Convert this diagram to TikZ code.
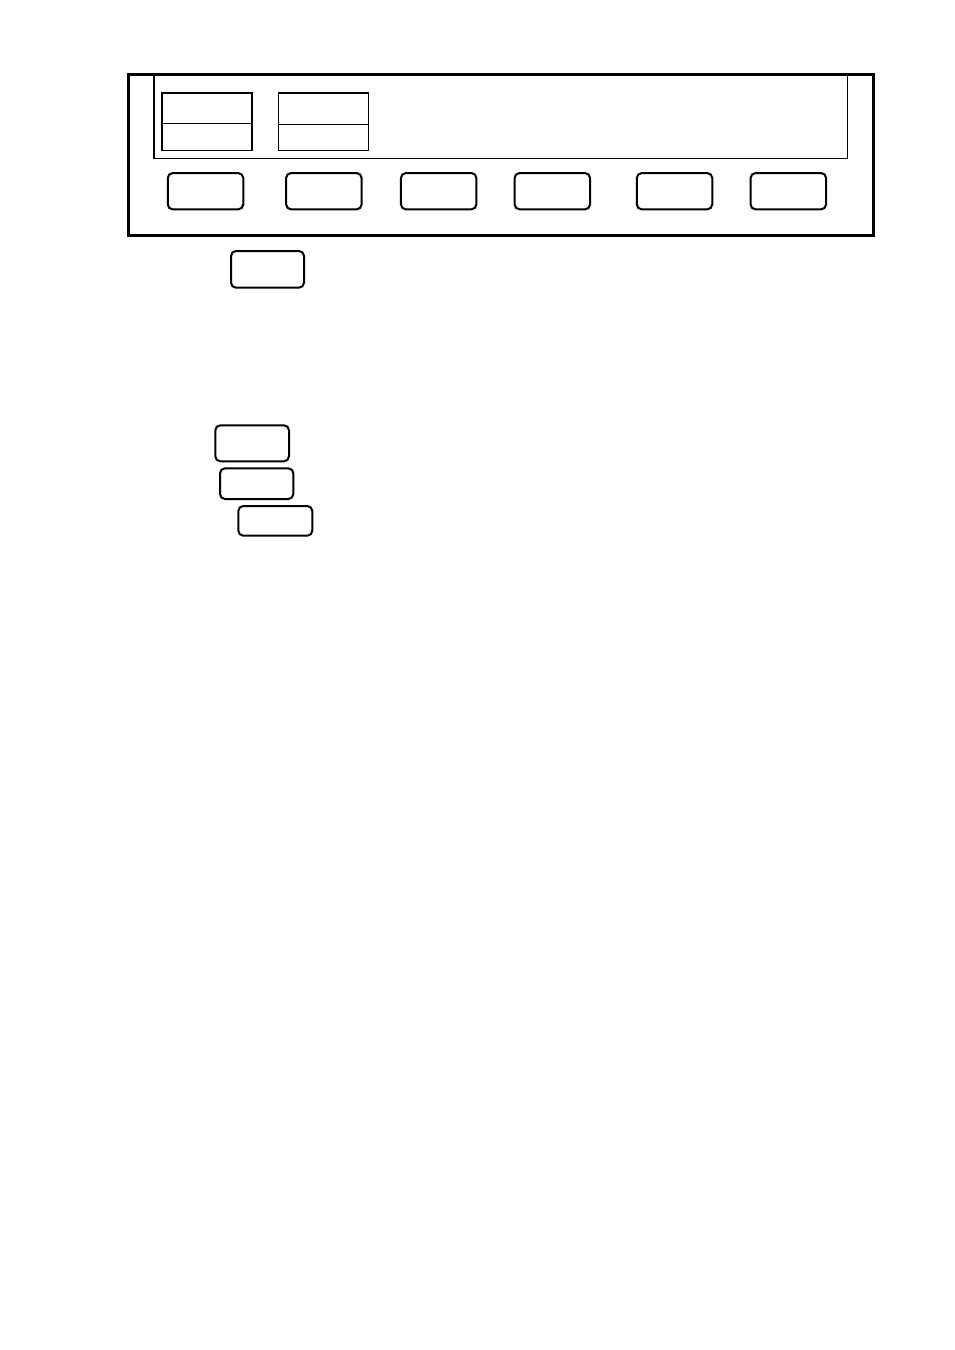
\documentclass[tikz,border=0pt]{standalone}
\usepackage{tikz}
\usetikzlibrary{positioning}

\begin{document}
\begin{tikzpicture}[x=1pt,y=-1pt,
		panel/.style={draw, line width=3pt, inner sep=0pt, outer sep=0pt},
		display/.style={draw, line width=1.3pt, inner sep=0pt, outer sep=0pt},
		field/.style={draw, line width=1.3pt, inner sep=0pt, outer sep=0pt, minimum width=90pt},
		softkey/.style={draw, line width=2pt, rounded corners=5pt, inner sep=0pt, outer sep=0pt, minimum width=75.5pt, minimum height=36.3pt}]
		\useasboundingbox (0,0) rectangle (954,1350);
		
		\node[panel, minimum width=745.3pt, minimum height=161.3pt] (front) at (500.85,154.85) {};
		\node[display, minimum width=693.3pt, minimum height=84pt] (lcd) at (500.6,116.6) {};
		
		\node[field, minimum height=30.3pt] (fieldAtop) at (207,108.15) {};
		\node[field, minimum height=27pt] (fieldAbot) at (207,136.8) {};
		\node[field, minimum height=31.3pt] (fieldBtop) at (323.5,108.65) {};
		\node[field, minimum height=26pt] (fieldBbot) at (323.5,137.3) {};
		
		\foreach \k/\x in {1/205.5, 2/323.85, 3/438.65, 4/552.35, 5/674.5, 6/788.35}
			\node[softkey] (key\k) at (\x,191.2) {};
		
		\node[softkey, minimum width=73pt, minimum height=36.7pt] (keyA) at (267.5,269.35) {};
		
		\node[softkey, minimum width=73.7pt, minimum height=36pt] (keyB) at (252.15,443.3) {};
		\node[softkey, minimum width=73.3pt, minimum height=30.7pt] (keyC) at (256.65,483.65) {};
		\node[softkey, minimum width=74pt, minimum height=29.7pt] (keyD) at (275.3,520.85) {};
	\end{tikzpicture}
\end{document}
